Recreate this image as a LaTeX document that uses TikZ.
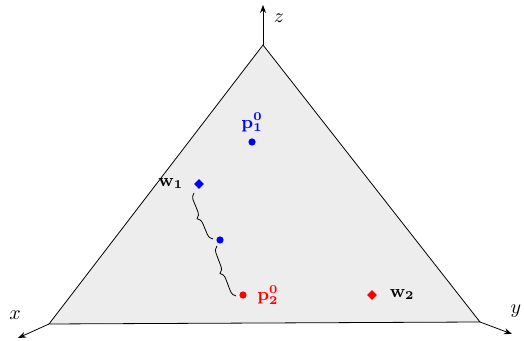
\documentclass[tikz,border=0pt]{standalone}
\usepackage{amsmath,amssymb}
\usepackage{tikz}
\usetikzlibrary{arrows.meta,positioning,shapes.geometric,calc,decorations.pathreplacing}

\begin{document}
\begin{tikzpicture}[x=0.5pt,y=0.5pt,
  dot/.style={circle,fill,inner sep=0pt,minimum size=3.6pt},
  dmd/.style={diamond,fill,inner sep=0pt,minimum size=5pt},
  lab/.style={inner sep=1pt,font=\small},
  ax/.style={-{Stealth[length=4pt,width=3pt]}},
  brc/.style={decorate,decoration={brace,amplitude=3.5pt}}]
\useasboundingbox (0,0) rectangle (524,341);
\coordinate (vx) at (49,17);
\coordinate (vy) at (480,19);
\coordinate (vz) at (263,296);
\fill[black!7] (vx) -- (vy) -- (vz) -- cycle;
\draw[thin] (vx) -- (vy) -- (vz) -- cycle;
\coordinate (ex) at (18,3);
\coordinate (ey) at (512,7);
\coordinate (ez) at (263,336);
\draw[ax] (vx) -- (ex);
\draw[ax] (vy) -- (ey);
\draw[ax] (vz) -- (ez);
\node[inner sep=1pt] (lx) at (15,26) {$x$};
\node[inner sep=1pt] (ly) at (516,30) {$y$};
\node[inner sep=1pt] (lz) at (279,323) {$z$};
\node[dot,blue] (p1) at (252,199) {};
\node[lab,blue,above=2pt of p1] (lp1) {$\mathbf{p}_{\mathbf{1}}^{\mathbf{0}}$};
\node[dmd,blue] (w1) at (199,157) {};
\node[lab,left=4pt of w1] (lw1) {$\mathbf{w}_{\mathbf{1}}$};
\node[dot,blue] (m) at (220,101) {};
\node[dot,red] (p2) at (243,46) {};
\node[lab,red,right=4pt of p2] (lp2) {$\mathbf{p}_{\mathbf{2}}^{\mathbf{0}}$};
\node[dmd,red] (w2) at (372,46) {};
\node[lab,right=5pt of w2] (lw2) {$\mathbf{w}_{\mathbf{2}}$};
\draw[brc] ($(m)+(-7,1)$) -- ($(w1)+(-5,-9)$);
\draw[brc] ($(p2)+(-7,-1)$) -- ($(m)+(-3,-6)$);
\end{tikzpicture}
\end{document}
